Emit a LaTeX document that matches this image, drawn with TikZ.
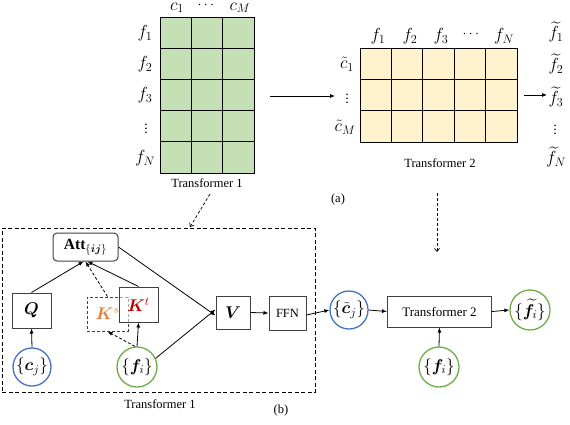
\RequirePackage{fix-cm}
\documentclass[tikz,border=0pt]{standalone}
\usepackage{amsmath,bm}
\usepackage{fontspec}
\setmainfont{Liberation Serif}
\usetikzlibrary{arrows.meta}
\definecolor{gfill}{HTML}{C5E0B4}
\definecolor{yfill}{HTML}{FFF2CC}
\definecolor{cblue}{HTML}{4472C4}
\definecolor{cgreen}{HTML}{70AD47}
\definecolor{korange}{HTML}{ED7D31}
\definecolor{kred}{HTML}{C00000}
\definecolor{edgegray}{HTML}{404040}
\begin{document}
\begin{tikzpicture}[x=1pt,y=-1pt,
  every node/.style={font=\fontsize{12.5}{14}\selectfont},
  lab/.style={font=\fontsize{17.5}{19}\selectfont, inner sep=0pt},
  vd/.style={font=\fontsize{14}{15}\selectfont, inner sep=0pt},
  box/.style={draw=edgegray, line width=1pt, inner sep=1pt, font=\fontsize{17}{19}\selectfont},
  circ/.style={circle, line width=1.3pt, minimum size=38pt, inner sep=0pt, font=\fontsize{17}{19}\selectfont},
  arr/.style={line width=0.8pt, -{Latex[length=5pt,width=4pt]}},
  darr/.style={line width=0.8pt, dash pattern=on 3pt off 2pt, -{Latex[length=5pt,width=4pt]}},
  oarr/.style={line width=0.7pt, dash pattern=on 3pt off 2pt, -{Straight Barb[length=3pt,width=5pt]}},
  gridline/.style={line width=0.8pt, black}]
\useasboundingbox (0,0) rectangle (570,424);

% ---------- (a) grid 1 ----------
\node[draw=black, line width=0.9pt, fill=gfill, minimum width=94pt, minimum height=156pt, inner sep=0pt, anchor=north west] (g1) at (160,17) {};
\foreach \i in {1,2} \draw[gridline] (160+\i*31.33,17) -- (160+\i*31.33,173);
\foreach \i in {1,...,4} \draw[gridline] (160,17+\i*31.2) -- (254,17+\i*31.2);
\node[lab, anchor=north] (c1) at (177,2.5) {$c_1$};
\node[vd, anchor=north] (cdots1) at (207,2.5) {$\cdots$};
\node[lab, anchor=north] (cM) at (240,2.5) {$c_M$};
\node[lab] (f1) at (145,33) {$f_1$};
\node[lab] (f2) at (145,64) {$f_2$};
\node[lab] (f3) at (145,95) {$f_3$};
\node[vd] (fv) at (146,126) {$\vdots$};
\node[lab] (fN) at (145,158) {$f_N$};
\node (t1a) at (207,183) {Transformer 1};

% ---------- (a) grid 2 ----------
\node[draw=black, line width=0.9pt, fill=yfill, minimum width=157pt, minimum height=94pt, inner sep=0pt, anchor=north west] (g2) at (360,48) {};
\foreach \i in {1,...,4} \draw[gridline] (360+\i*31.4,48) -- (360+\i*31.4,142);
\foreach \i in {1,2} \draw[gridline] (360,48+\i*31.33) -- (517,48+\i*31.33);
\node[lab] (h1) at (378,36) {$f_1$};
\node[lab] (h2) at (410,36) {$f_2$};
\node[lab] (h3) at (441,36) {$f_3$};
\node[vd] (hd) at (472,34) {$\cdots$};
\node[lab] (hN) at (504,36) {$f_N$};
\node[lab] (r1) at (347,64) {$\tilde{c}_1$};
\node[vd] (rv) at (347,96) {$\vdots$};
\node[lab] (rM) at (345,127) {$\tilde{c}_M$};
\node (t2a) at (440,163) {Transformer 2};
\node[lab] (o1) at (556,32) {$\widetilde{f}_1$};
\node[lab] (o2) at (556,64) {$\widetilde{f}_2$};
\node[lab] (o3) at (556,97) {$\widetilde{f}_3$};
\node[vd] (ov) at (555,127) {$\vdots$};
\node[lab] (oN) at (556,157) {$\widetilde{f}_N$};

\coordinate (a1s) at (270,96);
\coordinate (a1e) at (335,96);
\draw[arr] (a1s) -- (a1e);
\coordinate (a2s) at (524,95);
\coordinate (a2e) at (547,95);
\draw[arr] (a2s) -- (a2e);

\node (alab) at (338,199) {(a)};

\coordinate (d1s) at (210,194);
\coordinate (d1e) at (190,227);
\draw[oarr] (d1s) -- (d1e);
\coordinate (d2s) at (437,193);
\coordinate (d2e) at (437,252);
\draw[oarr] (d2s) -- (d2e);

% ---------- (b) ----------
\node[draw=black, line width=0.8pt, dash pattern=on 4pt off 2.5pt, minimum width=313pt, minimum height=164pt, inner sep=0pt, anchor=north west] (frame) at (2,228) {};
\node (t1b) at (160,404) {Transformer 1};
\node (blab) at (281,410) {(b)};

\node[box, minimum width=65pt, minimum height=28pt, rounded corners=4pt, font=\fontsize{15.5}{17}\selectfont] (att) at (85.5,247) {$\mathbf{Att}_{\{\boldsymbol{ij}\}}$};
\node[box, minimum width=39pt, minimum height=35pt] (q) at (31.5,310.5) {$\boldsymbol{Q}$};
\node[box, dash pattern=on 3pt off 2pt, minimum width=41pt, minimum height=34pt, text=korange] (ks) at (107.5,314) {$\boldsymbol{K}^{s}$};
\node[box, fill=white, fill opacity=0.55, text opacity=1, minimum width=39pt, minimum height=35pt, text=kred] (kt) at (138.5,304.5) {$\boldsymbol{K}^{t}$};
\node[box, minimum width=34pt, minimum height=33pt] (v) at (233,312.5) {$\boldsymbol{V}$};
\node[box, minimum width=37pt, minimum height=34pt, font=\fontsize{12.5}{14}\selectfont] (ffn) at (287.5,313) {FFN};

\node[circ, draw=cblue] (cj) at (32,367) {$\{\boldsymbol{c}_j\}$};
\node[circ, draw=cgreen, minimum size=40pt] (fi) at (137,367) {$\{\boldsymbol{f}_i\}$};
\node[circ, draw=cblue] (ctj) at (349,310) {$\{\tilde{\boldsymbol{c}}_j\}$};
\node[box, minimum width=104pt, minimum height=31pt, font=\fontsize{13}{15}\selectfont] (t2) at (439.5,311.5) {Transformer 2};
\node[circ, draw=cgreen, minimum size=40pt] (ftj) at (530,310) {$\{\widetilde{\boldsymbol{f}}_i\}$};
\node[circ, draw=cgreen, minimum size=40pt] (fi2) at (439,367) {$\{\boldsymbol{f}_i\}$};

\draw[arr] (q.north) -- ([xshift=-2pt]att.south);
\draw[darr] (ks.north) -- ([xshift=0pt]att.south);
\draw[arr] (kt.north) -- ([xshift=2pt]att.south);
\draw[arr] (att.east) -- ([yshift=-3pt]v.west);
\draw[arr] (fi.north) -- (kt.south);
\draw[darr] ([xshift=-2pt]fi.north) -- (ks.south);
\draw[arr] (fi.25) -- ([yshift=3pt]v.west);
\draw[arr] (cj.north) -- (q.south);
\draw[arr] (v.east) -- (ffn.west);
\draw[arr] ([yshift=-2pt]ffn.east) -- (ctj.west);
\draw[arr] (ctj.east) -- (t2.west);
\draw[arr] (t2.east) -- (ftj.west);
\draw[arr] (fi2.north) -- (t2.south);
\end{tikzpicture}
\end{document}
